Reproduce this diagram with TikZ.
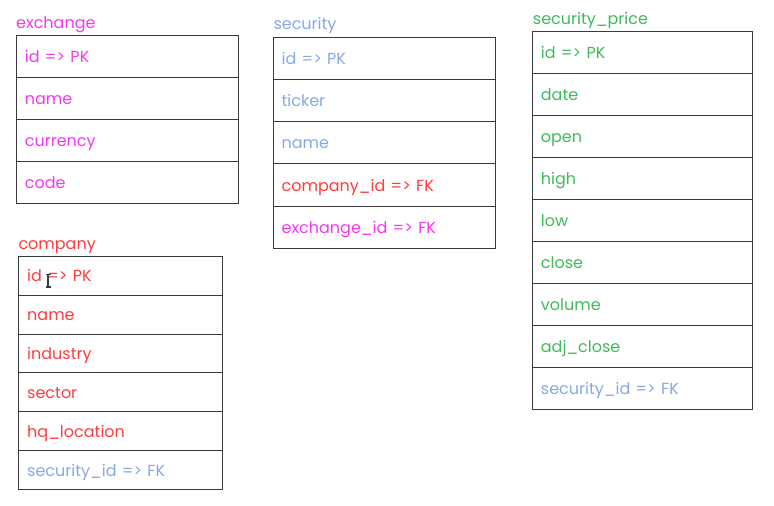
\documentclass[tikz,border=0pt]{standalone}
\usepackage{fontspec}
\setmainfont{Poppins}
\definecolor{exmag}{HTML}{F536F0}
\definecolor{cored}{HTML}{FF3B3B}
\definecolor{seblue}{HTML}{86A8E7}
\definecolor{prgreen}{HTML}{3DBB5A}
\definecolor{gridline}{HTML}{3A3A3A}
\begin{document}
\begin{tikzpicture}[x=1pt,y=-1pt,
  every node/.style={font=\fontsize{16}{19}\selectfont},
  title/.style={anchor=base west, inner sep=0pt},
  rowbox/.style={draw=gridline, line width=0.8pt, anchor=north west, align=left,
    inner xsep=8.5pt, inner ysep=0pt, text height=14pt, text depth=2pt},
  exrow/.style={rowbox, text width=205pt, minimum height=42.2pt},
  corow/.style={rowbox, text width=186.7pt, minimum height=38.93pt},
  serow/.style={rowbox, text width=205pt, minimum height=42.26pt},
  prrow/.style={rowbox, text width=202.7pt, minimum height=42.07pt}]
\useasboundingbox (0,0) rectangle (774,506);
% exchange
\node[title, text=exmag] (exT) at (16,28) {exchange};
\node[exrow, text=exmag] (ex1) at (16,34.5) {id => PK};
\node[exrow, text=exmag] (ex2) at (16,76.7) {name};
\node[exrow, text=exmag] (ex3) at (16,118.9) {currency};
\node[exrow, text=exmag] (ex4) at (16,161.1) {code};
% company
\node[title, text=cored] (coT) at (18.3,249.5) {company};
\node[corow, text=cored] (co1) at (18.3,255.7) {id => PK};
\node[corow, text=cored] (co2) at (18.3,294.63) {name};
\node[corow, text=cored] (co3) at (18.3,333.56) {industry};
\node[corow, text=cored] (co4) at (18.3,372.49) {sector};
\node[corow, text=cored] (co5) at (18.3,411.42) {hq\_location};
\node[corow, text=seblue] (co6) at (18.3,450.35) {security\_id => FK};
% cursor (I-beam)
\fill[gridline] (47.2,274) rectangle (48.8,287);
\fill[gridline] (45.5,273.5) rectangle (50.5,275);
\fill[gridline] (45.5,286) rectangle (50.5,287.5);
% security
\node[title, text=seblue] (seT) at (273.3,29.5) {security};
\node[serow, text=seblue] (se1) at (272.7,36.7) {id => PK};
\node[serow, text=seblue] (se2) at (272.7,78.96) {ticker};
\node[serow, text=seblue] (se3) at (272.7,121.22) {name};
\node[serow, text=cored] (se4) at (272.7,163.48) {company\_id => FK};
\node[serow, text=exmag] (se5) at (272.7,205.74) {exchange\_id => FK};
% security_price
\node[title, text=prgreen] (prT) at (532.7,24.5) {security\_price};
\node[prrow, text=prgreen] (pr1) at (532,30.7) {id => PK};
\node[prrow, text=prgreen] (pr2) at (532,72.77) {date};
\node[prrow, text=prgreen] (pr3) at (532,114.84) {open};
\node[prrow, text=prgreen] (pr4) at (532,156.91) {high};
\node[prrow, text=prgreen] (pr5) at (532,198.98) {low};
\node[prrow, text=prgreen] (pr6) at (532,241.05) {close};
\node[prrow, text=prgreen] (pr7) at (532,283.12) {volume};
\node[prrow, text=prgreen] (pr8) at (532,325.19) {adj\_close};
\node[prrow, text=seblue] (pr9) at (532,367.26) {security\_id => FK};
\end{tikzpicture}
\end{document}
